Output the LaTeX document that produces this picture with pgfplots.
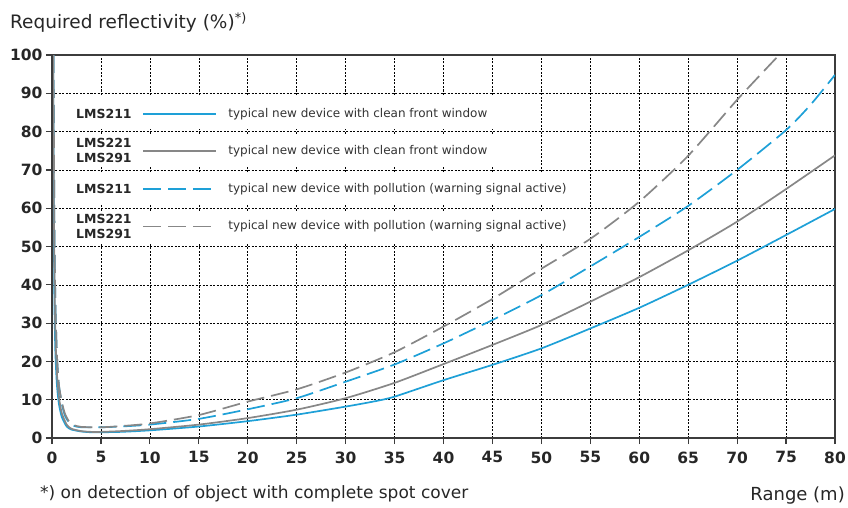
\documentclass[border=0pt]{standalone}
\usepackage{fontspec}
\setmainfont{DejaVu Sans}
\usepackage{pgfplots}
\pgfplotsset{compat=1.18}
\definecolor{sickblue}{RGB}{30,160,215}
\definecolor{curvegray}{RGB}{135,135,135}
\definecolor{axisgray}{RGB}{60,60,60}

\begin{document}
\begin{tikzpicture}
\path[use as bounding box] (-52pt,-69pt) rectangle (796pt,438pt);
\begin{axis}[
  at={(0pt,0pt)}, anchor=south west,
  scale only axis, width=783pt, height=383pt,
  xmin=0, xmax=80, ymin=0, ymax=100,
  xtick distance=5, ytick distance=10,
  grid=major,
  grid style={black, dash pattern=on 2pt off 1.5pt, line width=0.6pt},
  axis line style={axisgray, line width=1.2pt},
  tick style={axisgray, line width=1.2pt},
  tick align=outside, major tick length=6pt,
  xtick pos=bottom, ytick pos=left,
  /pgf/number format/assume math mode=true,
  ticklabel style={font=\fontsize{15.5}{16}\selectfont\bfseries, text=black!85},
  xticklabel style={yshift=-4pt},
  yticklabel style={xshift=0pt},
  every axis plot/.append style={line width=1.7pt, smooth, tension=0.4},
]
% LMS211 clean
\addplot[sickblue] coordinates {
(0.12,100)(0.18,60)(0.25,35)(0.35,22)(0.5,14)(0.7,9)(1,5.5)(1.5,3)(2,2.2)(3,1.7)(4,1.5)(5,1.5)(7,1.6)(10,2)(15,3)(20,4.4)(25,6.1)(30,8.2)(33,9.6)(35,10.8)(40,15.1)(45,19.1)(50,23.4)(55,28.6)(60,34)(65,40)(70,46.3)(75,53)(80,59.8)};
% LMS221/291 clean
\addplot[curvegray] coordinates {
(0.12,100)(0.2,55)(0.3,33)(0.4,23)(0.55,15)(0.75,10)(1,6.5)(1.5,3.5)(2,2.4)(3,1.8)(4,1.6)(5,1.6)(7,1.8)(10,2.3)(15,3.5)(20,5.2)(25,7.4)(30,10.4)(35,14.4)(40,19.3)(45,24.3)(50,29.5)(55,35.6)(60,42)(65,49)(70,56.5)(75,65)(80,73.8)};
% LMS211 pollution
\addplot[sickblue, dash pattern=on 18pt off 7pt] coordinates {
(0.15,100)(0.25,55)(0.35,35)(0.5,22)(0.7,14)(1,9)(1.3,6)(1.7,4.2)(2.2,3.2)(3,2.8)(5,2.8)(7,3)(10,3.5)(15,5)(20,7.5)(25,10.4)(30,14.7)(35,19.2)(40,24.7)(45,30.8)(50,37.3)(55,44.8)(60,52.5)(65,60.6)(70,70)(75,80.4)(77.5,87)(80,94.8)};
% LMS221/291 pollution
\addplot[curvegray, dash pattern=on 18pt off 7pt] coordinates {
(0.15,100)(0.25,55)(0.35,35)(0.5,22)(0.7,14)(1,9.5)(1.3,6.5)(1.7,4.5)(2.2,3.4)(3,2.9)(5,2.8)(7,3.1)(10,3.8)(15,6)(20,9.5)(25,12.7)(30,17.1)(35,22.4)(40,29.1)(45,36.3)(50,44.2)(55,52)(60,61.7)(65,73.7)(70,88.3)(74.1,99.5)(75,102)};

% thick left and bottom axis lines
\draw[axisgray, line width=2.5pt] (rel axis cs:0,1) -- (rel axis cs:0,0) -- (rel axis cs:1,0);

% legend backgrounds
\fill[white] (axis cs:1,80.8) rectangle (axis cs:49,89.2);
\fill[white] (axis cs:1,70.8) rectangle (axis cs:49,79.2);
\fill[white] (axis cs:1,60.8) rectangle (axis cs:53.5,69.2);
\fill[white] (axis cs:1,50.8) rectangle (axis cs:53.5,59.2);

% legend entries
\node[anchor=west, inner sep=0pt, font=\fontsize{12.5}{15}\selectfont\bfseries, text=black!85] at (axis cs:2.45,84.6) {LMS211};
\node[anchor=west, inner sep=0pt, align=left, font=\fontsize{12.5}{15}\selectfont\bfseries, text=black!85] at (axis cs:2.45,75.0) {LMS221\\LMS291};
\node[anchor=west, inner sep=0pt, font=\fontsize{12.5}{15}\selectfont\bfseries, text=black!85] at (axis cs:2.45,65.0) {LMS211};
\node[anchor=west, inner sep=0pt, align=left, font=\fontsize{12.5}{15}\selectfont\bfseries, text=black!85] at (axis cs:2.45,55.2) {LMS221\\LMS291};

\draw[sickblue, line width=1.7pt] (axis cs:9.3,84.6) -- (axis cs:16.8,84.6);
\draw[curvegray, line width=1.7pt] (axis cs:9.3,75.0) -- (axis cs:16.8,75.0);
\draw[sickblue, line width=1.7pt, dash pattern=on 18pt off 7pt] (axis cs:9.3,65.0) -- (axis cs:16.8,65.0);
\draw[curvegray, line width=1.7pt, dash pattern=on 18pt off 7pt] (axis cs:9.3,55.2) -- (axis cs:16.8,55.2);

\node[anchor=west, inner sep=0pt, font=\fontsize{12}{14}\selectfont, text=black!80] at (axis cs:18.0,84.6) {typical new device with clean front window};
\node[anchor=west, inner sep=0pt, font=\fontsize{12}{14}\selectfont, text=black!80] at (axis cs:18.0,75.0) {typical new device with clean front window};
\node[anchor=west, inner sep=0pt, font=\fontsize{12}{14}\selectfont, text=black!80] at (axis cs:18.0,65.0) {typical new device with pollution (warning signal active)};
\node[anchor=west, inner sep=0pt, font=\fontsize{12}{14}\selectfont, text=black!80] at (axis cs:18.0,55.2) {typical new device with pollution (warning signal active)};
\end{axis}

\node[anchor=base west, inner sep=0pt, font=\fontsize{18.5}{20}\selectfont, text=black!85] at (-42pt,409.5pt) {Required reflectivity (\%)\textsuperscript{*)}};
\node[anchor=base west, inner sep=0pt, font=\fontsize{17}{19}\selectfont, text=black!85] at (-12pt,-60pt) {*) on detection of object with complete spot cover};
\node[anchor=base east, inner sep=0pt, font=\fontsize{18}{20}\selectfont, text=black!85] at (793pt,-62pt) {Range (m)};
\end{tikzpicture}
\end{document}
